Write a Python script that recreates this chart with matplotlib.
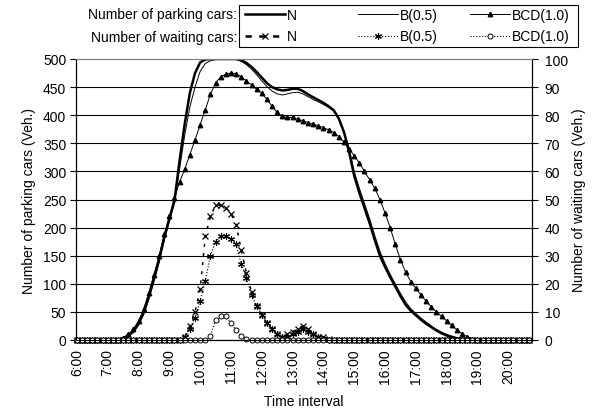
import numpy as np
import matplotlib
matplotlib.use("Agg")
import matplotlib.pyplot as plt
from matplotlib.patches import Rectangle
from matplotlib.lines import Line2D

plt.rcParams['font.family'] = ['Liberation Sans', 'DejaVu Sans']
plt.rcParams['font.size'] = 10

# 10-minute steps from 6:00 to 20:40
n_steps = 89
time_h = 6 + np.arange(n_steps) / 6.0

def pad(start, vals):
    return [0] * start + vals + [0] * (n_steps - start - len(vals))

# number of parking cars (left axis), starts at 7:30
park_N = pad(9, [3, 8, 16, 30, 50, 78, 110, 143, 182, 215, 248, 320, 385, 440, 475, 494,
                 499, 500, 500, 500, 500, 500, 500, 498, 493, 486, 477, 467, 457, 450, 446,
                 444, 445, 447, 447, 443, 437, 432, 427, 422, 416, 409, 394, 370, 335, 292,
                 262, 235, 208, 178, 150, 130, 112, 95, 78, 63, 52, 44, 36, 29, 23, 17, 12,
                 8, 5, 3, 2, 1])
park_B = pad(9, [2, 6, 13, 26, 45, 72, 104, 138, 178, 212, 246, 305, 365, 415, 450, 478,
                 492, 497, 499, 500, 500, 500, 499, 496, 490, 482, 472, 461, 451, 443, 438,
                 436, 438, 440, 441, 438, 433, 428, 424, 419, 414, 407, 394, 372, 340, 300,
                 270, 243, 216, 186, 158, 136, 117, 100, 83, 68, 56, 47, 39, 32, 25, 19, 14,
                 10, 7, 4, 3, 1])
park_BCD = pad(9, [4, 10, 19, 34, 55, 84, 116, 150, 188, 220, 252, 282, 304, 330, 356, 383,
                   410, 437, 458, 468, 473, 475, 474, 468, 461, 454, 446, 439, 428, 416, 405,
                   398, 396, 396, 393, 390, 387, 384, 381, 378, 374, 369, 362, 352, 340, 328,
                   315, 300, 285, 270, 250, 226, 200, 170, 143, 121, 104, 92, 80, 69, 59, 50,
                   42, 34, 26, 18, 11, 6, 2])

# number of waiting cars (right axis), starts at 9:30 / 10:20
wait_N = pad(21, [1, 5, 10, 18, 37, 44, 48, 48, 47, 45, 41, 32, 24, 17, 12, 9, 6, 4, 2, 1,
                  2, 3, 4, 5, 4, 2, 1, 1, 0.5])
wait_B = pad(21, [1, 4, 8, 14, 21, 30, 35, 37, 37, 36, 34, 27, 22, 16, 12, 9, 6, 4, 2, 1,
                  1, 2, 3, 4, 3, 2, 1, 0.5])
wait_BCD = pad(26, [1.5, 7, 8.5, 8.5, 6, 3.5, 1.5, 0.5])

names = ['N', 'B(0.5)', 'BCD(1.0)']
hour_ticks = np.arange(6, 21)
hour_labels = ['%d:00' % h for h in hour_ticks]

fig = plt.figure(figsize=(5.97, 4.14), dpi=100)
ax = fig.add_axes([76 / 597, 1 - 341 / 414, (532 - 76) / 597, (341 - 60) / 414])
ax2 = ax.twinx()

p1, = ax.plot(time_h, park_N, color='black', lw=1.8)
p2, = ax.plot(time_h, park_B, color='black', lw=0.7)
p3, = ax.plot(time_h, park_BCD, color='black', lw=0.7, marker='^', ms=3.2, clip_on=False)

ax2.plot(time_h, wait_N, color='black', lw=1.1, ls=(0, (2, 4)),
         marker='x', ms=4.5, mew=0.9, clip_on=False)
w2, = ax2.plot(time_h, wait_B, color='black', lw=0.8, ls=':',
               marker=(6, 2, 0), ms=5, mew=0.8, clip_on=False)
w3, = ax2.plot(time_h, wait_BCD, color='black', lw=0.8, ls=':',
               marker='o', ms=3.6, mfc='white', mew=0.7, clip_on=False)
# legend proxy for the thick dashed waiting-N line
w1 = Line2D([], [], color='black', lw=1.8, ls=(0, (2.5, 3)), marker='x', ms=4.5, mew=0.9)

ax.set_xlim(5.97, 20.77)
ax.set_ylim(0, 500)
ax2.set_ylim(0, 100)
ax.set_yticks(np.arange(0, 501, 50))
ax2.set_yticks(np.arange(0, 101, 10))
ax.set_xticks(hour_ticks)
ax.set_xticklabels(hour_labels, rotation=90)

ax.yaxis.grid(True, color='black', lw=0.8)
ax.set_axisbelow(True)
ax.yaxis.get_gridlines()[-1].set_visible(False)

for a in (ax, ax2):
    a.spines['top'].set_color('#808080')
    a.spines['left'].set_linewidth(0.8)
    a.spines['right'].set_linewidth(0.8)
    a.spines['bottom'].set_linewidth(0.8)
ax.tick_params(axis='y', length=4, width=0.8, pad=3)
ax.tick_params(axis='x', length=0, pad=6)
ax2.tick_params(axis='y', length=4, width=0.8, pad=5)

ax.set_ylabel('Number of parking cars (Veh.)', labelpad=5)
ax2.set_ylabel('Number of waiting cars (Veh.)', labelpad=3)
ax.set_xlabel('Time interval', labelpad=8)

# legend: three columns with equal width, boxed, row titles on the left
col_x = [242, 355, 467]
park_lines = [p1, p2, p3]
wait_lines = [w1, w2, w3]
for k in range(3):
    fig.legend(handles=[park_lines[k], wait_lines[k]], labels=[names[k], names[k]],
               loc='upper left', bbox_to_anchor=(col_x[k] / 597, 1 - 6 / 414),
               frameon=False, borderpad=0.2, borderaxespad=0, handlelength=2.9,
               handletextpad=0.15, labelspacing=0.55, numpoints=1)
fig.patches.append(Rectangle((239 / 597, 1 - 48 / 414), 339 / 597, 42 / 414,
                             transform=fig.transFigure, fill=False, ec='black', lw=0.8))
fig.text(237 / 597, 1 - 15 / 414, 'Number of parking cars:', ha='right', va='center')
fig.text(237 / 597, 1 - 38 / 414, 'Number of waiting cars:', ha='right', va='center')

fig.savefig('out.png', dpi=100)
